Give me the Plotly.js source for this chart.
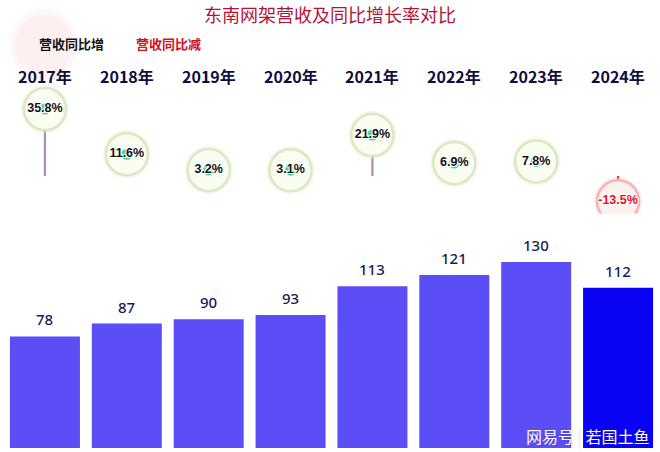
<!DOCTYPE html>
<html>
<head>
<meta charset="utf-8">
<script src="https://cdn.plot.ly/plotly-3.0.1.min.js"></script>
<style>html,body{margin:0;padding:0;background:#fff;}#chart{width:660px;height:452px;}</style>
</head>
<body>
<div id="chart"></div>
<script>
// ---- data ----
const years = ['2017年','2018年','2019年','2020年','2021年','2022年','2023年','2024年'];
const revenue = [78, 87, 90, 93, 113, 121, 130, 112];
const growth = [35.8, 11.6, 3.2, 3.1, 21.9, 6.9, 7.8, -13.5];
const growthLabels = ['35.8%','11.6%','3.2%','3.1%','21.9%','6.9%','7.8%','-13.5%'];
const legendLabels = ['营收同比增','营收同比减'];
const titleText = '东南网架营收及同比增长率对比';

const idx = years.map((_, i) => i);
const isNeg = growth.map(v => v < 0);

// bar colours
const barColors = revenue.map((_, i) => i === revenue.length - 1 ? '#0a02f2' : '#5b4ef6');

const traces = [
  {
    type: 'bar', x: idx, y: revenue, xaxis: 'x', yaxis: 'y',
    width: 0.855,
    marker: {color: barColors, line: {width: 0}},
    hoverinfo: 'skip'
  },
  // sticks
  {
    type: 'bar', x: idx, y: growth, xaxis: 'x', yaxis: 'y2',
    width: 0.028,
    marker: {color: isNeg.map(n => n ? '#e0303a' : '#a992b4'), line: {width: 0}},
    hoverinfo: 'skip'
  },
  // glow
  {
    type: 'scatter', mode: 'markers', x: idx, y: growth, xaxis: 'x', yaxis: 'y2',
    marker: {size: 48, color: isNeg.map(n => n ? 'rgba(250,205,205,0.35)' : 'rgba(222,235,195,0.35)'), line: {width: 0}},
    hoverinfo: 'skip'
  },
  // bubble
  {
    type: 'scatter', mode: 'markers', x: idx, y: growth, xaxis: 'x', yaxis: 'y2',
    marker: {size: 42, color: isNeg.map(n => n ? '#fff0f0' : '#fafdf1'),
      line: {width: 2.5, color: isNeg.map(n => n ? '#f2b4b4' : '#dce8c4')}},
    hoverinfo: 'skip'
  },
  // centre dot
  {
    type: 'scatter', mode: 'markers', x: idx, y: growth, xaxis: 'x', yaxis: 'y2',
    marker: {size: 11, color: isNeg.map(n => n ? 'rgba(0,0,0,0)' : 'rgba(40,205,140,0.85)'), line: {width: 0}},
    hoverinfo: 'skip'
  },
  // text
  {
    type: 'scatter', mode: 'text', x: idx, y: growth, xaxis: 'x', yaxis: 'y2',
    text: growthLabels, textposition: 'middle center',
    textfont: {family: 'Liberation Sans, Arial, sans-serif', size: 12.5, weight: 'bold',
      color: isNeg.map(n => n ? '#e3101c' : '#111111'),
      shadow: '1px 1px 0 #fff, -1px -1px 0 #fff, 1px -1px 0 #fff, -1px 1px 0 #fff'},
    hoverinfo: 'skip'
  }
];

const annotations = [];
// bar value labels
revenue.forEach((v, i) => annotations.push({
  x: i, y: v, xref: 'x', yref: 'y', xanchor: 'center', yanchor: 'bottom', yshift: 5,
  text: String(v), showarrow: false,
  font: {family: 'Noto Sans, sans-serif', size: 15, weight: 500, color: '#1a1a55'}
}));
// year labels
years.forEach((t, i) => annotations.push({
  x: i, y: 0.830, xref: 'x', yref: 'paper', xanchor: 'center', yanchor: 'middle',
  text: t, showarrow: false,
  font: {family: 'Noto Sans CJK SC, sans-serif', size: 16, weight: 'bold', color: '#0e0e40'}
}));
// legend texts
annotations.push({x: 0.1038, y: 0.9018, xref: 'paper', yref: 'paper', xanchor: 'center', yanchor: 'middle',
  text: legendLabels[0], showarrow: false,
  font: {family: 'Noto Sans CJK SC, sans-serif', size: 13, weight: 'bold', color: '#151515'}});
annotations.push({x: 0.2504, y: 0.9018, xref: 'paper', yref: 'paper', xanchor: 'center', yanchor: 'middle',
  text: legendLabels[1], showarrow: false,
  font: {family: 'Noto Sans CJK SC, sans-serif', size: 13, weight: 'bold', color: '#d4101c'}});
// watermark
annotations.push({x: 0.8916, y: 0.0268, xref: 'paper', yref: 'paper', xanchor: 'center', yanchor: 'middle',
  text: '网易号 ¦ 若国土鱼', showarrow: false,
  font: {family: 'Noto Sans CJK SC, sans-serif', size: 16, color: '#ffffff', shadow: '0 0 2px rgba(0,0,0,0.25)'}});

const layout = {
  width: 660, height: 452,
  margin: {l: 4, r: 1, t: 0, b: 4},
  paper_bgcolor: '#ffffff', plot_bgcolor: '#ffffff',
  showlegend: false,
  barmode: 'overlay',
  title: {text: titleText, x: 0.5, xref: 'container', y: 0.965, yref: 'container', yanchor: 'middle',
    font: {family: 'Noto Sans CJK SC, serif', size: 18, color: '#b0143a'}},
  xaxis: {range: [-0.5, 7.5], visible: false, fixedrange: true},
  yaxis: {domain: [0, 0.5], range: [0, 156.6], visible: false, fixedrange: true},
  yaxis2: {domain: [0.5237, 0.8158], range: [-20, 50], visible: false, fixedrange: true, anchor: 'x'},
  shapes: [
    {type: 'circle', xref: 'paper', yref: 'paper', x0: 0.0092, x1: 0.1130, y0: 0.820, y1: 0.980,
      fillcolor: 'rgba(250,228,228,0.3)', line: {width: 0}, layer: 'below'},
    {type: 'circle', xref: 'paper', yref: 'paper', x0: 0.0168, x1: 0.1054, y0: 0.832, y1: 0.968,
      fillcolor: 'rgba(250,230,230,0.4)', line: {width: 0}, layer: 'below'}
  ],
  annotations: annotations
};

Plotly.newPlot('chart', traces, layout, {displayModeBar: false, staticPlot: true});
</script>
</body>
</html>
